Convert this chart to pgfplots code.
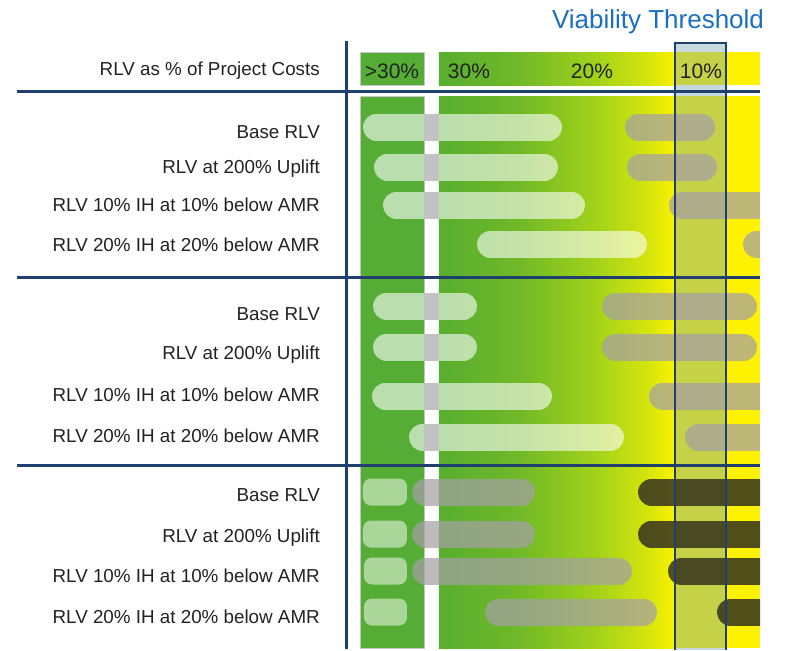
\documentclass[border=0pt]{standalone}
\usepackage{pgfplots}
\pgfplotsset{compat=1.18}
\usepackage{fontspec}
\setmainfont{Liberation Sans}
\definecolor{navy}{RGB}{31,64,110}
\definecolor{txt}{RGB}{34,34,34}
\definecolor{titleblue}{RGB}{27,111,194}
\definecolor{colg}{RGB}{85,173,53}
\definecolor{ga}{RGB}{88,174,48}
\definecolor{gb}{RGB}{112,185,40}
\definecolor{gc}{RGB}{165,212,24}
\definecolor{gd}{RGB}{215,230,12}
\definecolor{ge}{RGB}{252,241,0}
\definecolor{gf}{RGB}{255,242,0}
\definecolor{gapgray}{RGB}{194,194,194}
\definecolor{graybar}{RGB}{165,160,165}
\definecolor{darkbar}{RGB}{58,56,30}
\definecolor{threshfill}{RGB}{110,160,175}
\newcommand{\lab}[1]{{\fontsize{18.8}{22}\selectfont\color{txt}#1}}
\newcommand{\pct}[1]{{\fontsize{21}{24}\selectfont\color{txt}#1}}
\begin{document}
\begin{tikzpicture}
% ---------- axis A: full canvas, labels ----------
\begin{axis}[at={(0,0)}, anchor=south west, width=785pt, height=649pt,
  scale only axis, xmin=0, xmax=785, ymin=0, ymax=649, y dir=reverse,
  hide axis, clip=false]
\addplot[draw=none] coordinates {(0,0)};
\node[anchor=base] at (axis cs:658,28) {{\fontsize{26}{30}\selectfont\color{titleblue}Viability Threshold}};
\node[anchor=base east, inner sep=0pt] at (axis cs:320,75) {\lab{RLV as \% of Project Costs}};
% group 1
\node[anchor=base east, inner sep=0pt] at (axis cs:320,138) {\lab{Base RLV}};
\node[anchor=base east, inner sep=0pt] at (axis cs:320,173) {\lab{RLV at 200\% Uplift}};
\node[anchor=base east, inner sep=0pt] at (axis cs:320,211) {\lab{RLV 10\% IH at 10\% below AMR}};
\node[anchor=base east, inner sep=0pt] at (axis cs:320,251) {\lab{RLV 20\% IH at 20\% below AMR}};
% group 2
\node[anchor=base east, inner sep=0pt] at (axis cs:320,320) {\lab{Base RLV}};
\node[anchor=base east, inner sep=0pt] at (axis cs:320,359) {\lab{RLV at 200\% Uplift}};
\node[anchor=base east, inner sep=0pt] at (axis cs:320,401) {\lab{RLV 10\% IH at 10\% below AMR}};
\node[anchor=base east, inner sep=0pt] at (axis cs:320,442) {\lab{RLV 20\% IH at 20\% below AMR}};
% group 3
\node[anchor=base east, inner sep=0pt] at (axis cs:320,501) {\lab{Base RLV}};
\node[anchor=base east, inner sep=0pt] at (axis cs:320,542) {\lab{RLV at 200\% Uplift}};
\node[anchor=base east, inner sep=0pt] at (axis cs:320,582) {\lab{RLV 10\% IH at 10\% below AMR}};
\node[anchor=base east, inner sep=0pt] at (axis cs:320,623) {\lab{RLV 20\% IH at 20\% below AMR}};
\end{axis}
% ---------- axis B: chart panel ----------
\begin{axis}[at={(348pt,0)}, anchor=south west, width=412pt, height=649pt,
  scale only axis, xmin=348, xmax=760, ymin=0, ymax=649, y dir=reverse,
  hide axis, clip mode=individual,
  light/.style={draw=white, draw opacity=0.6, line width=27pt, line cap=round},
  grayb/.style={draw=graybar, draw opacity=0.72, line width=27pt, line cap=round},
  darkb/.style={draw=darkbar, draw opacity=0.88, line width=27pt, line cap=round},
  gapp/.style={draw=none, fill=gapgray},
  pale/.style={draw=none, fill=white, fill opacity=0.5, rounded corners=8pt}]
% backgrounds: header
\addplot[draw=gray!45, line width=0.6pt, fill=colg] coordinates {(360,52)(424,52)(424,85)(360,85)} -- cycle;
\addplot[draw=none, left color=ga, right color=gb] coordinates {(439,52)(520.5,52)(520.5,85)(439,85)} -- cycle;
\addplot[draw=none, left color=gb, right color=gc] coordinates {(520,52)(600.5,52)(600.5,85)(520,85)} -- cycle;
\addplot[draw=none, left color=gc, right color=gd] coordinates {(600,52)(650.5,52)(650.5,85)(600,85)} -- cycle;
\addplot[draw=none, left color=gd, right color=ge] coordinates {(650,52)(674.5,52)(674.5,85)(650,85)} -- cycle;
\addplot[draw=none, fill=gf] coordinates {(674,52)(760,52)(760,85)(674,85)} -- cycle;
% backgrounds: body
\addplot[draw=gray!45, line width=0.6pt, fill=colg] coordinates {(360,96)(424,96)(424,648)(360,648)} -- cycle;
\addplot[draw=none, left color=ga, right color=gb] coordinates {(439,96)(520.5,96)(520.5,648)(439,648)} -- cycle;
\addplot[draw=none, left color=gb, right color=gc] coordinates {(520,96)(600.5,96)(600.5,648)(520,648)} -- cycle;
\addplot[draw=none, left color=gc, right color=gd] coordinates {(600,96)(650.5,96)(650.5,648)(600,648)} -- cycle;
\addplot[draw=none, left color=gd, right color=ge] coordinates {(650,96)(674.5,96)(674.5,648)(650,648)} -- cycle;
\addplot[draw=none, fill=gf] coordinates {(674,96)(760,96)(760,648)(674,648)} -- cycle;
% ---- viability threshold column tint (under the bars) ----
\addplot[fill=threshfill, fill opacity=0.4, draw=none] coordinates {(674.5,43)(725.5,43)(725.5,655)(674.5,655)} -- cycle;
% ---- group 1 ----
\addplot[light] coordinates {(376.5,127)(548.5,127)};
\addplot[gapp] coordinates {(424,113.5)(439,113.5)(439,140.5)(424,140.5)} -- cycle;
\addplot[grayb] coordinates {(638.5,127)(701.5,127)};
\addplot[light] coordinates {(387.5,167)(544.5,167)};
\addplot[gapp] coordinates {(424,153.5)(439,153.5)(439,180.5)(424,180.5)} -- cycle;
\addplot[grayb] coordinates {(640.5,167)(703.5,167)};
\addplot[light] coordinates {(396.5,205)(571.5,205)};
\addplot[gapp] coordinates {(424,191.5)(439,191.5)(439,218.5)(424,218.5)} -- cycle;
\addplot[grayb] coordinates {(682.5,205)(800,205)};
\addplot[light] coordinates {(490.5,244)(633.5,244)};
\addplot[grayb] coordinates {(756.5,244)(800,244)};
% ---- group 2 ----
\addplot[light] coordinates {(386.5,306)(463.5,306)};
\addplot[gapp] coordinates {(424,292.5)(439,292.5)(439,319.5)(424,319.5)} -- cycle;
\addplot[grayb] coordinates {(615.5,306)(743.5,306)};
\addplot[light] coordinates {(386.5,347)(463.5,347)};
\addplot[gapp] coordinates {(424,333.5)(439,333.5)(439,360.5)(424,360.5)} -- cycle;
\addplot[grayb] coordinates {(615.5,347)(743.5,347)};
\addplot[light] coordinates {(385.5,396)(538.5,396)};
\addplot[gapp] coordinates {(424,382.5)(439,382.5)(439,409.5)(424,409.5)} -- cycle;
\addplot[grayb] coordinates {(662.5,396)(800,396)};
\addplot[light] coordinates {(422.5,437)(610.5,437)};
\addplot[gapp] coordinates {(424,423.5)(439,423.5)(439,450.5)(424,450.5)} -- cycle;
\addplot[grayb] coordinates {(698.5,437)(800,437)};
% ---- group 3 ----
\addplot[pale] coordinates {(363,478.5)(407,478.5)(407,505.5)(363,505.5)} -- cycle;
\addplot[grayb] coordinates {(425.5,492)(521.5,492)};
\addplot[darkb] coordinates {(651.5,492)(800,492)};
\addplot[pale] coordinates {(363,520.5)(407,520.5)(407,547.5)(363,547.5)} -- cycle;
\addplot[grayb] coordinates {(425.5,534)(521.5,534)};
\addplot[darkb] coordinates {(651.5,534)(800,534)};
\addplot[pale] coordinates {(364,557.5)(407,557.5)(407,584.5)(364,584.5)} -- cycle;
\addplot[grayb] coordinates {(425.5,571)(618.5,571)};
\addplot[darkb] coordinates {(681.5,571)(800,571)};
\addplot[pale] coordinates {(364,598.5)(407,598.5)(407,625.5)(364,625.5)} -- cycle;
\addplot[grayb] coordinates {(498.5,612)(643.5,612)};
\addplot[darkb] coordinates {(730.5,612)(800,612)};
% ---- viability threshold column border (over the bars) ----
\addplot[draw=navy, line width=2pt] coordinates {(674.5,43)(725.5,43)(725.5,655)(674.5,655)} -- cycle;
% percentage labels
\node[anchor=base] at (axis cs:392,78) {\pct{>30\%}};
\node[anchor=base] at (axis cs:469,78) {\pct{30\%}};
\node[anchor=base] at (axis cs:592,78) {\pct{20\%}};
\node[anchor=base] at (axis cs:701,78) {\pct{10\%}};
% structure lines
\draw[navy, line width=3pt] (axis cs:17,91) -- (axis cs:760,91);
\draw[navy, line width=3pt] (axis cs:17,277) -- (axis cs:760,277);
\draw[navy, line width=3pt] (axis cs:17,465) -- (axis cs:760,465);
\draw[navy, line width=3pt] (axis cs:347,41) -- (axis cs:347,649);
\end{axis}
\useasboundingbox (0,0) rectangle (785pt,649pt);
\end{tikzpicture}
\end{document}
